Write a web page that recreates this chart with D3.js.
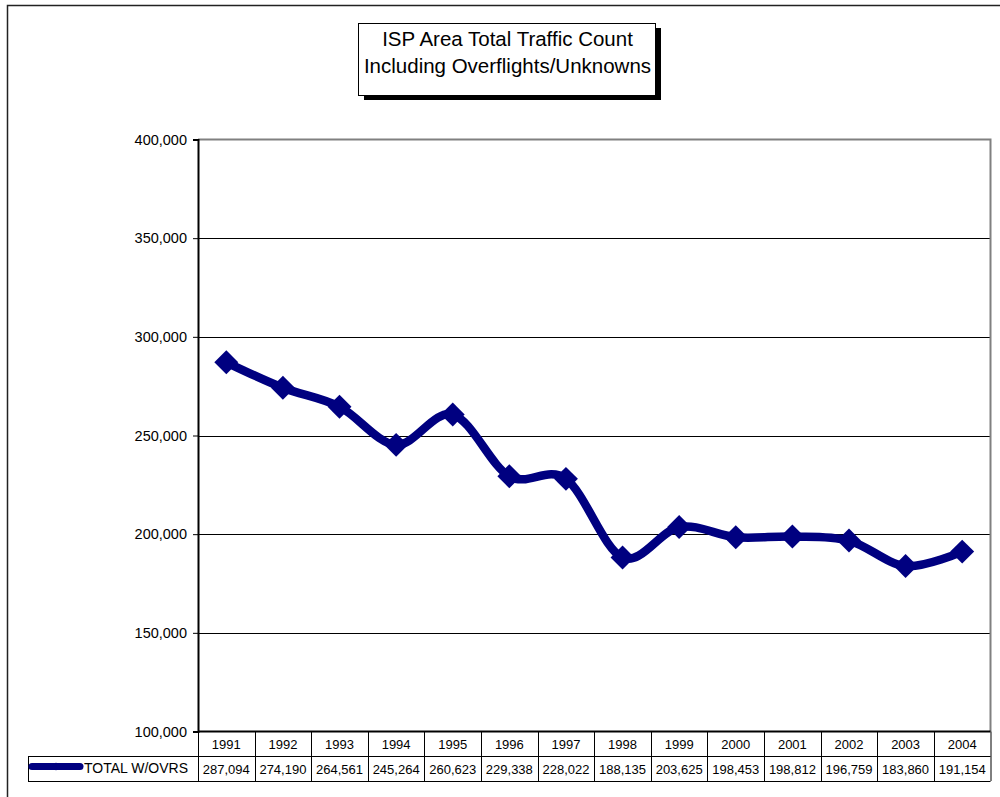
<!DOCTYPE html>
<html>
<head>
<meta charset="utf-8">
<script src="https://cdn.jsdelivr.net/npm/d3@7"></script>
<style>
  html, body { margin: 0; padding: 0; background: #fff; }
  svg { display: block; font-family: "Liberation Sans", Arial, sans-serif; }
</style>
</head>
<body>
<div id="chart"></div>
<script>
const years = ['1991', '1992', '1993', '1994', '1995', '1996', '1997', '1998', '1999', '2000', '2001', '2002', '2003', '2004'];
const totalWithOverflights = [287094, 274190, 264561, 245264, 260623, 229338, 228022, 188135, 203625, 198453, 198812, 196759, 183860, 191154];
const yTicks = [100000, 150000, 200000, 250000, 300000, 350000, 400000];
const seriesName = 'TOTAL W/OVRS';
const titleLines = ['ISP Area Total Traffic Count', 'Including Overflights/Unknowns'];

const W = 1000, H = 797;
const navy = '#000080';
const font = '"Liberation Sans", Arial, sans-serif';
const plot = { left: 198, top: 139.5, right: 990.5, bottom: 731.5 };

const svg = d3.select('#chart').append('svg')
  .attr('width', W)
  .attr('height', H);

// outer chart frame (runs off the right / bottom of the picture)
svg.append('path')
  .attr('d', `M7.5,${H + 5}V5.5H${W + 5}`)
  .attr('fill', 'none')
  .attr('stroke', '#222')
  .attr('stroke-width', 1.5);

const x = d3.scaleBand().domain(years).range([plot.left, plot.right]);
const y = d3.scaleLinear().domain([100000, 400000]).range([plot.bottom, plot.top]);
const fmt = d3.format(',');

// gridlines
svg.append('g')
  .selectAll('line')
  .data(yTicks.filter(t => t > 100000 && t < 400000))
  .join('line')
  .attr('x1', plot.left).attr('x2', plot.right)
  .attr('y1', d => Math.round(y(d)) + 0.5).attr('y2', d => Math.round(y(d)) + 0.5)
  .attr('stroke', '#000')
  .attr('stroke-width', 1);

// plot border (grey top/right)
svg.append('path')
  .attr('d', `M${plot.left},${plot.top}H${plot.right}V${plot.bottom}`)
  .attr('fill', 'none')
  .attr('stroke', '#808080')
  .attr('stroke-width', 2);

// y axis
const yAxis = svg.append('g')
  .attr('transform', `translate(${plot.left},0)`)
  .call(d3.axisLeft(y).tickValues(yTicks).tickFormat(fmt).tickSizeOuter(0).tickSize(5).tickPadding(6));
yAxis.attr('font-size', null).attr('font-family', null);
yAxis.select('.domain').attr('stroke', '#000').attr('stroke-width', 2);
yAxis.selectAll('.tick line').attr('stroke', '#000');
yAxis.selectAll('.tick text')
  .attr('font-size', 14.5)
  .attr('font-family', font)
  .attr('fill', '#000');

// x axis baseline
svg.append('line')
  .attr('x1', plot.left).attr('x2', plot.right)
  .attr('y1', plot.bottom).attr('y2', plot.bottom)
  .attr('stroke', '#000').attr('stroke-width', 2);

// data table
const rowTop = plot.bottom, rowMid = 756, rowBot = 781;
const legendLeft = 28.5;
const table = svg.append('g').attr('stroke', '#000').attr('stroke-width', 1);
const colEdges = years.map(d => Math.round(x(d)) + 0.5).concat([Math.round(plot.right)]);
table.selectAll('line.v')
  .data(colEdges)
  .join('line')
  .attr('class', 'v')
  .attr('x1', d => d).attr('x2', d => d)
  .attr('y1', rowTop).attr('y2', rowBot);
table.append('line')
  .attr('x1', legendLeft).attr('x2', plot.right)
  .attr('y1', rowMid + 0.5).attr('y2', rowMid + 0.5);
table.append('line')
  .attr('x1', legendLeft).attr('x2', plot.right)
  .attr('y1', rowBot + 0.5).attr('y2', rowBot + 0.5);
table.append('line')
  .attr('x1', legendLeft).attr('x2', legendLeft)
  .attr('y1', rowMid).attr('y2', rowBot + 1);

svg.append('g')
  .selectAll('text')
  .data(years)
  .join('text')
  .attr('x', d => x(d) + x.bandwidth() / 2)
  .attr('y', 749)
  .attr('text-anchor', 'middle')
  .attr('font-size', 13)
  .text(d => d);

svg.append('g')
  .selectAll('text')
  .data(totalWithOverflights)
  .join('text')
  .attr('x', (d, i) => x(years[i]) + x.bandwidth() / 2)
  .attr('y', 774)
  .attr('text-anchor', 'middle')
  .attr('font-size', 13)
  .text(d => fmt(d));

// legend key
svg.append('line')
  .attr('x1', 32).attr('x2', 80)
  .attr('y1', 766.5).attr('y2', 766.5)
  .attr('stroke', navy).attr('stroke-width', 7).attr('stroke-linecap', 'round');
svg.append('path')
  .attr('d', d3.symbol(d3.symbolDiamond2, 40)())
  .attr('transform', 'translate(56,766.5)')
  .attr('fill', navy);
svg.append('text')
  .attr('x', 84).attr('y', 773)
  .attr('font-size', 14)
  .text(seriesName);

// series line
const pts = totalWithOverflights.map((v, i) => [x(years[i]) + x.bandwidth() / 2, y(v)]);
svg.append('path')
  .attr('d', d3.line().curve(d3.curveCardinal.tension(0))(pts))
  .attr('fill', 'none')
  .attr('stroke', navy)
  .attr('stroke-width', 8.5)
  .attr('stroke-linejoin', 'round');

svg.append('g')
  .selectAll('path')
  .data(pts)
  .join('path')
  .attr('d', d3.symbol(d3.symbolDiamond2, 365)())
  .attr('transform', d => `translate(${d[0]},${d[1]})`)
  .attr('fill', navy);

// title box with shadow
const tb = { x: 358, y: 23, w: 297, h: 72 };
svg.append('rect')
  .attr('x', tb.x + 6).attr('y', tb.y + 5)
  .attr('width', tb.w).attr('height', tb.h)
  .attr('fill', '#000');
svg.append('rect')
  .attr('x', tb.x + 0.5).attr('y', tb.y + 0.5)
  .attr('width', tb.w).attr('height', tb.h)
  .attr('fill', '#fff')
  .attr('stroke', '#000');
svg.append('g')
  .selectAll('text')
  .data(titleLines)
  .join('text')
  .attr('x', tb.x + tb.w / 2 + 1)
  .attr('y', (d, i) => 46 + i * 27)
  .attr('text-anchor', 'middle')
  .attr('font-size', 20.5)
  .text(d => d);
</script>
</body>
</html>
